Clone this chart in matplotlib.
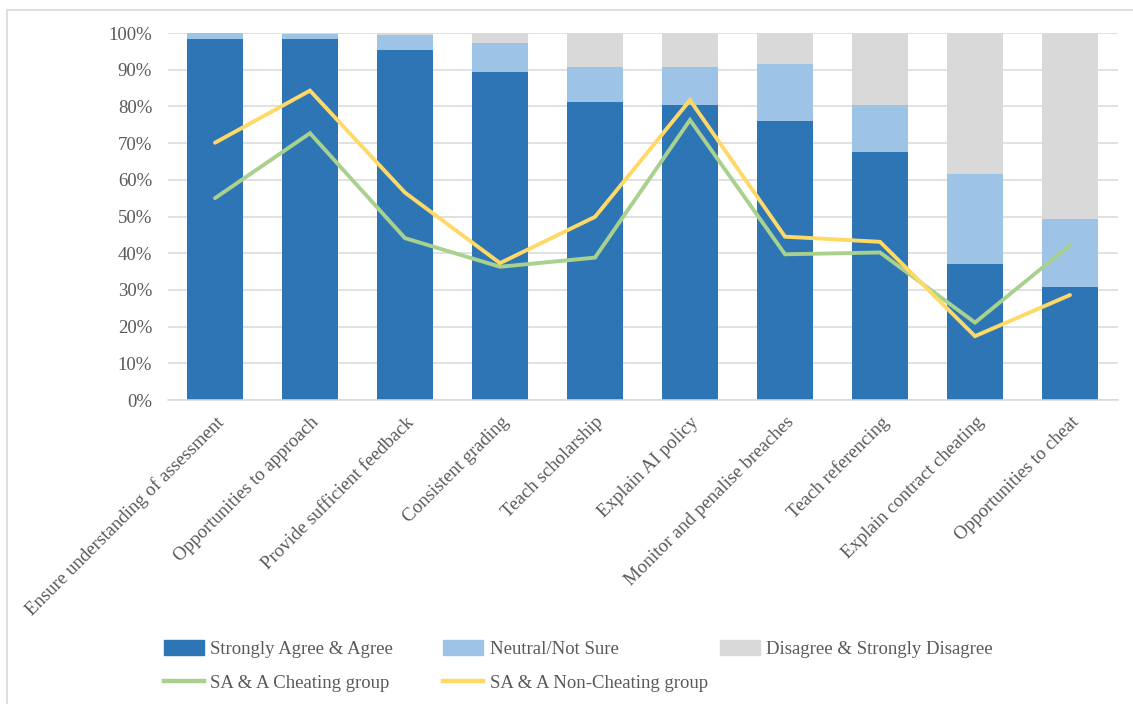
import matplotlib
matplotlib.use("Agg")
import matplotlib.pyplot as plt
import numpy as np
from matplotlib.patches import Patch, Rectangle
from matplotlib.lines import Line2D
from matplotlib.ticker import PercentFormatter

categories = ["Ensure understanding of assessment", "Opportunities to approach",
              "Provide sufficient feedback", "Consistent grading", "Teach scholarship",
              "Explain AI policy", "Monitor and penalise breaches", "Teach referencing",
              "Explain contract cheating", "Opportunities to cheat"]
agree = [98.4, 98.3, 95.5, 89.5, 81.3, 80.4, 76.1, 67.7, 37.1, 30.8]
neutral = [1.6, 1.4, 4.0, 7.9, 9.5, 10.4, 15.5, 12.6, 24.5, 18.5]
disagree = [0.0, 0.3, 0.5, 2.6, 9.2, 9.2, 8.4, 19.7, 38.4, 50.7]
cheating = [55.0, 72.7, 44.1, 36.3, 38.8, 76.3, 39.7, 40.2, 21.1, 42.2]
non_cheating = [70.1, 84.3, 56.5, 37.3, 49.9, 81.7, 44.5, 43.1, 17.4, 28.6]

series_labels = ["Strongly Agree & Agree", "Neutral/Not Sure", "Disagree & Strongly Disagree",
                 "SA & A Cheating group", "SA & A Non-Cheating group"]

C_DARK = "#2E75B6"
C_LIGHT = "#9DC3E6"
C_GRAY = "#D9D9D9"
C_GREEN = "#A9D18E"
C_YELLOW = "#FFD966"
TXT = "#595959"

plt.rcParams['font.family'] = ['Liberation Serif', 'DejaVu Serif']

W, H = 1133, 704
fig = plt.figure(figsize=(W / 100, H / 100), dpi=100)
ax = fig.add_axes([167.5 / W, 1 - 400 / H, (1117.5 - 167.5) / W, (400 - 33) / H])

x = np.arange(len(categories))
a = np.array(agree)
n = np.array(neutral)
d = np.array(disagree)
bw = 0.59
ax.bar(x, a, bw, color=C_DARK, zorder=2)
ax.bar(x, n, bw, bottom=a, color=C_LIGHT, zorder=2)
ax.bar(x, d, bw, bottom=a + n, color=C_GRAY, zorder=2)
ax.plot(x, cheating, color=C_GREEN, lw=2.8, zorder=3, solid_capstyle='round', solid_joinstyle='miter')
ax.plot(x, non_cheating, color=C_YELLOW, lw=2.8, zorder=4, solid_capstyle='round', solid_joinstyle='miter')

ax.set_xlim(-0.5, len(categories) - 0.5)
ax.set_ylim(0, 100)
ax.set_yticks(np.arange(0, 101, 10))
ax.yaxis.set_major_formatter(PercentFormatter(decimals=0))
ax.grid(axis='y', color=C_GRAY, lw=1.1, zorder=0)
ax.set_axisbelow(True)
for s in ['top', 'right', 'left']:
    ax.spines[s].set_visible(False)
ax.spines['bottom'].set_color(C_GRAY)
ax.spines['bottom'].set_linewidth(1.1)
ax.tick_params(axis='both', length=0, labelsize=13.5, colors=TXT)
ax.tick_params(axis='y', pad=11)
ax.set_xticks(x)
ax.set_xticklabels(categories, rotation=45, ha='right', va='top', rotation_mode='anchor',
                   fontsize=13.6)
ax.tick_params(axis='x', pad=10)

# chart frame
fig.add_artist(Rectangle((7 / W, -0.05), 1.1, (1 - 10 / H) + 0.05, transform=fig.transFigure,
                         fill=False, edgecolor=C_GRAY, lw=1.2))

handles = [Patch(color=C_DARK), Patch(color=C_LIGHT), Patch(color=C_GRAY),
           Line2D([], [], color=C_GREEN, lw=3.2), Line2D([], [], color=C_YELLOW, lw=3.2)]
positions = [(164, 649), (443, 649), (720, 649), (164, 683), (443, 683)]
for h, lab, (px, py) in zip(handles, series_labels, positions):
    fig.legend(handles=[h], labels=[lab], loc='center left', bbox_to_anchor=(px / W, 1 - py / H),
               frameon=False, fontsize=13.5, labelcolor=TXT, handlelength=2.15, handleheight=0.9,
               handletextpad=0.33, borderpad=0, borderaxespad=0)

fig.savefig("out.png", dpi=100)
